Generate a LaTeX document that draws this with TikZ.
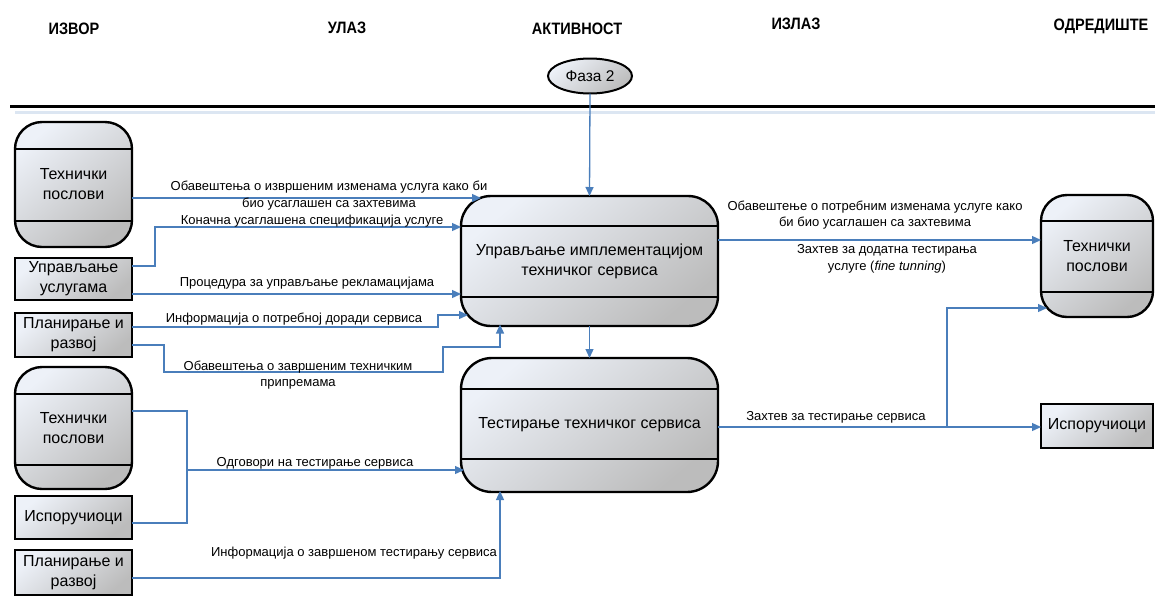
\documentclass[tikz,border=0pt]{standalone}
\usepackage{fontspec}
\setmainfont{Liberation Sans}
\newfontfamily\headfont[FakeStretch=0.88]{Liberation Sans}
\usetikzlibrary{arrows.meta,shapes.geometric}

\definecolor{flowblue}{HTML}{4A7EBB}
\definecolor{sepblue}{HTML}{DCE6F2}
\definecolor{filltop}{HTML}{EDF1F8}
\definecolor{fillbot}{HTML}{BCBCBC}

\tikzset{
  shaded box/.style={draw=black, line width=2.4pt, outer sep=0pt, inner sep=0pt,
    top color=filltop, bottom color=fillbot, shading angle=40,
    align=center, font=\fontsize{16}{20}\selectfont},
  procbox/.style={shaded box, rectangle, rounded corners=#1},
  entity/.style={shaded box, rectangle, minimum width=117pt},
  band/.style={draw=black, line width=2.4pt},
  flow/.style={draw=flowblue, line width=1.3pt, -{Triangle[length=9pt,width=8pt]}},
  flowline/.style={draw=flowblue, line width=1.3pt},
  lbl/.style={inner sep=0pt, align=center, font=\fontsize{13}{16.5}\selectfont},
  header/.style={inner sep=0pt, font=\headfont\fontsize{16.5}{19}\selectfont\bfseries}
}

\begin{document}
\begin{tikzpicture}[x=1pt,y=-1pt]
\useasboundingbox (0,0) rectangle (1155,611);

% column headers
\node[header] (hsrc) at (74,29) {ИЗВОР};
\node[header] (hin)  at (347,28) {УЛАЗ};
\node[header] (hact) at (577,29) {АКТИВНОСТ};
\node[header] (hout) at (796,24) {ИЗЛАЗ};
\node[header] (hdst) at (1101,26) {ОДРЕДИШТЕ};

% phase marker
\node[shaded box, ellipse, minimum width=84pt, minimum height=35pt,
      line width=2pt, font=\fontsize{15.5}{18}\selectfont] (phase) at (590,76) {Фаза 2};

% separators
\draw[sepblue, line width=3pt] (15,112) -- (1155,112);
\draw[black, line width=3pt] (10,106) -- (1155,106);

% sources
\node[procbox=27pt, minimum width=117pt, minimum height=125pt] (tpa) at (73.5,184.5) {Технички\\послови};
\node[entity, minimum height=42pt] (usl) at (73.5,279) {Управљање\\услугама};
\node[entity, minimum height=44pt] (pra) at (73.5,335) {Планирање и\\развој};
\node[procbox=27pt, minimum width=117pt, minimum height=122pt] (tpb) at (73.5,428) {Технички\\послови};
\node[entity, minimum height=43pt] (ispa) at (73.5,517.5) {Испоручиоци};
\node[entity, minimum height=45pt] (prb) at (73.5,572.5) {Планирање и\\развој};

% activities
\node[procbox=30pt, minimum width=257pt, minimum height=130pt] (impl) at (589.5,261)
  {Управљање имплементацијом\\техничког сервиса};
\node[procbox=31pt, minimum width=257pt, minimum height=134pt] (test) at (589.5,425)
  {Тестирање техничког сервиса};

% destinations
\node[procbox=26pt, minimum width=112pt, minimum height=122pt] (tpc) at (1097,256) {Технички\\послови};
\node[shaded box, rectangle, minimum width=112pt, minimum height=44pt] (ispb) at (1097,426) {Испоручиоци};

% horizontal bands of the process boxes
\foreach \n/\t/\b in {tpa/27/26, tpb/27/24, impl/30/29, test/31/33, tpc/26/25}{
  \draw[band] ([yshift=-\t pt]\n.north west) -- ([yshift=-\t pt]\n.north east);
  \draw[band] ([yshift=\b pt]\n.south west) -- ([yshift=\b pt]\n.south east);
}

% flows into the implementation activity
\draw[flow] (tpa.east |- 0,198) -- ([xshift=20pt]impl.west |- 0,198);
\draw[flow] (usl.east |- 0,266) -- (155,266) -- (155,227) -- (impl.west |- 0,227);
\draw[flow] (usl.east |- 0,294) -- (impl.west |- 0,294);
\draw[flow] (pra.east |- 0,327) -- (438,327) -- (438,315) -- ([xshift=7pt]impl.west |- 0,315);
\draw[flow] (pra.east |- 0,345) -- (164,345) -- (164,372) -- (443,372) -- (443,347)
  -- (500,347) -- ([yshift=1.5pt]impl.south -| 500,0);
\draw[flow] (phase.south) -- (impl.north);
\draw[flow] (impl.south) -- (test.north);

% flows into the testing activity
\draw[flowline] (tpb.east |- 0,411) -- (187,411) -- (187,523) -- (ispa.east |- 0,523);
\draw[flow] (187,470) -- ([xshift=3pt]test.west |- 0,470);
\draw[flow] (prb.east |- 0,578) -- (500,578) -- ([yshift=1pt]test.south -| 500,0);

% outgoing flows
\draw[flow] (impl.east |- 0,240) -- (tpc.west |- 0,240);
\draw[flow] (test.east |- 0,427) -- (ispb.west |- 0,427);
\draw[flow] (947,427) -- (947,308) -- ([xshift=6pt]tpc.west |- 0,308);

% flow labels
\node[lbl] (la) at (329,195.5) {Обавештења о извршеним изменама услуга како би\\био усаглашен са захтевима};
\node[lbl] (lb) at (312,221) {Коначна усаглашена спецификација услуге};
\node[lbl] (lc) at (307,283) {Процедура за управљање рекламацијама};
\node[lbl] (ld) at (294,319) {Информација о потребној доради сервиса};
\node[lbl] (le) at (298,375) {Обавештења о завршеним техничким\\припремама};
\node[lbl] (lf) at (315,463) {Одговори на тестирање сервиса};
\node[lbl] (lg) at (354,553) {Информација о завршеном тестирању сервиса};
\node[lbl] (lh) at (875,215) {Обавештење о потребним изменама услуге како\\би био усаглашен са захтевима};
\node[lbl] (li) at (887,259) {Захтев за додатна тестирања\\услуге (\textit{fine tunning})};
\node[lbl] (lj) at (836,417) {Захтев за тестирање сервиса};
\end{tikzpicture}
\end{document}
